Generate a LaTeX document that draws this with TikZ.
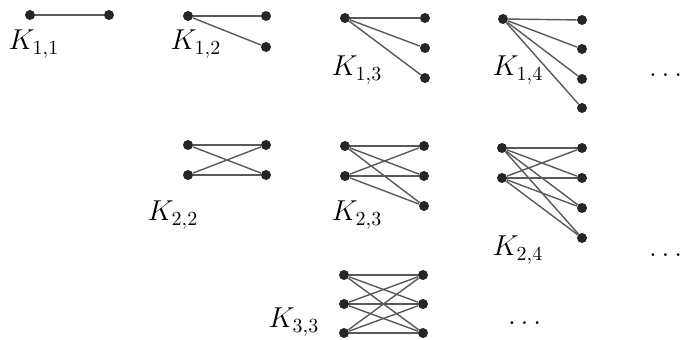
\documentclass[tikz,border=0pt]{standalone}
\usepackage{amsmath,amssymb}
\usepackage{tikz}
\tikzset{
  vtx/.style={circle, fill=black!85, inner sep=0pt, minimum size=5pt},
  edg/.style={draw=black!65, line width=0.7pt},
  lbl/.style={font=\Large, inner sep=1pt},
  more/.style={font=\Large, inner sep=1pt}
}

\begin{document}
\begin{tikzpicture}[x=0.5pt, y=-0.5pt]
\useasboundingbox (0,0) rectangle (681,340);
% K_{1,1}
\node[vtx] (k11l1) at (30,15) {};
\node[vtx] (k11r1) at (109,15) {};
\draw[edg] (k11l1)--(k11r1);
\node[lbl] (k11) at (34,44) {$K_{1,1}$};
% K_{1,2}
\node[vtx] (k12l1) at (188,16) {};
\foreach \j/\y in {1/16,2/47} \node[vtx] (k12r\j) at (266,\y) {};
\foreach \j in {1,2} \draw[edg] (k12l1)--(k12r\j);
\node[lbl] (k12) at (196,44) {$K_{1,2}$};
% K_{1,3}
\node[vtx] (k13l1) at (345,18) {};
\foreach \j/\y in {1/18,2/48,3/78} \node[vtx] (k13r\j) at (425,\y) {};
\foreach \j in {1,...,3} \draw[edg] (k13l1)--(k13r\j);
\node[lbl] (k13) at (357,70) {$K_{1,3}$};
% K_{1,4}
\node[vtx] (k14l1) at (503,19) {};
\foreach \j/\y in {1/20,2/49,3/79,4/108} \node[vtx] (k14r\j) at (582,\y) {};
\foreach \j in {1,...,4} \draw[edg] (k14l1)--(k14r\j);
\node[lbl] (k14) at (518,70) {$K_{1,4}$};
\node[more] (dots1) at (668,75) {$\dots$};
% K_{2,2}
\foreach \i/\y in {1/145,2/175} \node[vtx] (k22l\i) at (188,\y) {};
\foreach \j/\y in {1/145,2/175} \node[vtx] (k22r\j) at (266,\y) {};
\foreach \i in {1,2} \foreach \j in {1,2} \draw[edg] (k22l\i)--(k22r\j);
\node[lbl] (k22) at (173,215) {$K_{2,2}$};
% K_{2,3}
\foreach \i/\y in {1/146,2/176} \node[vtx] (k23l\i) at (345,\y) {};
\foreach \j/\y in {1/146,2/176,3/206} \node[vtx] (k23r\j) at (424,\y) {};
\foreach \i in {1,2} \foreach \j in {1,...,3} \draw[edg] (k23l\i)--(k23r\j);
\node[lbl] (k23) at (357,215) {$K_{2,3}$};
% K_{2,4}
\foreach \i/\y in {1/148,2/178} \node[vtx] (k24l\i) at (502,\y) {};
\foreach \j/\y in {1/148,2/178,3/208,4/238} \node[vtx] (k24r\j) at (582,\y) {};
\foreach \i in {1,2} \foreach \j in {1,...,4} \draw[edg] (k24l\i)--(k24r\j);
\node[lbl] (k24) at (518,250) {$K_{2,4}$};
\node[more] (dots2) at (668,255) {$\dots$};
% K_{3,3}
\foreach \i/\y in {1/275,2/304,3/333} \node[vtx] (k33l\i) at (344,\y) {};
\foreach \j/\y in {1/275,2/304,3/333} \node[vtx] (k33r\j) at (423,\y) {};
\foreach \i in {1,...,3} \foreach \j in {1,...,3} \draw[edg] (k33l\i)--(k33r\j);
\node[lbl] (k33) at (294,322) {$K_{3,3}$};
\node[more] (dots3) at (527,323) {$\dots$};
\end{tikzpicture}
\end{document}
